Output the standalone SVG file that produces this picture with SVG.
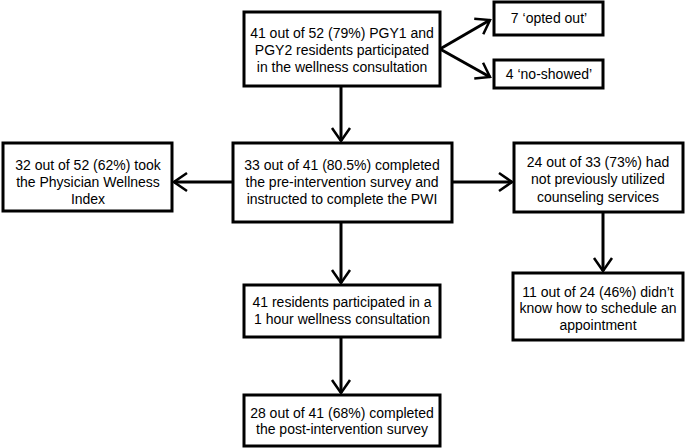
<svg xmlns="http://www.w3.org/2000/svg" width="685" height="448" viewBox="0 0 685 448">
<style>
.box{fill:#fff;stroke:#000;stroke-width:3}
.t{font-family:"Liberation Sans",Arial,sans-serif;font-size:14px;fill:#000;text-anchor:middle}
.c{stroke:#000;stroke-width:3;fill:none}
</style>
<defs>
<marker id="ah" markerUnits="userSpaceOnUse" viewBox="-15 -11 17 22" markerWidth="17" markerHeight="22" refX="0" refY="0" orient="auto">
<path d="M-13,-9 L0,0 L-13,9" fill="none" stroke="#000" stroke-width="2.5"/>
</marker>
</defs>
<rect width="685" height="448" fill="#fff"/>
<g id="connectors">
<line class="c" x1="440" y1="49" x2="490" y2="20" marker-end="url(#ah)"/>
<line class="c" x1="440" y1="49" x2="490" y2="77" marker-end="url(#ah)"/>
<line class="c" x1="341" y1="86" x2="341" y2="141" marker-end="url(#ah)"/>
<line class="c" x1="233" y1="182" x2="174" y2="182" marker-end="url(#ah)"/>
<line class="c" x1="452" y1="182" x2="512" y2="182" marker-end="url(#ah)"/>
<line class="c" x1="603" y1="212" x2="603" y2="271" marker-end="url(#ah)"/>
<line class="c" x1="341" y1="222" x2="341" y2="283" marker-end="url(#ah)"/>
<line class="c" x1="341" y1="337" x2="341" y2="393" marker-end="url(#ah)"/>
</g>
<g id="n1">
<rect class="box" x="244" y="12" width="196" height="74"/>
<text class="t" x="342" y="38">41 out of 52 (79%) PGY1 and</text>
<text class="t" x="342" y="55">PGY2 residents participated</text>
<text class="t" x="342" y="72">in the wellness consultation</text>
</g>
<g id="n2">
<rect class="box" x="494" y="2" width="109" height="33"/>
<text class="t" x="549" y="23">7 ‘opted out’</text>
</g>
<g id="n3">
<rect class="box" x="494" y="60" width="109" height="28"/>
<text class="t" x="549" y="79">4 ‘no-showed’</text>
</g>
<g id="n4">
<rect class="box" x="3" y="143" width="169" height="68"/>
<text class="t" x="88" y="170">32 out of 52 (62%) took</text>
<text class="t" x="88" y="187">the Physician Wellness</text>
<text class="t" x="88" y="204">Index</text>
</g>
<g id="n5">
<rect class="box" x="233" y="143" width="219" height="79"/>
<text class="t" x="342" y="170">33 out of 41 (80.5%) completed</text>
<text class="t" x="342" y="187">the pre-intervention survey and</text>
<text class="t" x="342" y="204">instructed to complete the PWI</text>
</g>
<g id="n6">
<rect class="box" x="514" y="143" width="169" height="69"/>
<text class="t" x="598" y="167">24 out of 33 (73%) had</text>
<text class="t" x="598" y="184">not previously utilized</text>
<text class="t" x="598" y="202">counseling services</text>
</g>
<g id="n7">
<rect class="box" x="513" y="273" width="170" height="67"/>
<text class="t" x="598" y="297">11 out of 24 (46%) didn’t</text>
<text class="t" x="598" y="313">know how to schedule an</text>
<text class="t" x="598" y="330">appointment</text>
</g>
<g id="n8">
<rect class="box" x="244" y="285" width="196" height="52"/>
<text class="t" x="342" y="307">41 residents participated in a</text>
<text class="t" x="342" y="324">1 hour wellness consultation</text>
</g>
<g id="n9">
<rect class="box" x="244" y="395" width="196" height="51"/>
<text class="t" x="342" y="418">28 out of 41 (68%) completed</text>
<text class="t" x="342" y="434">the post-intervention survey</text>
</g>
</svg>
